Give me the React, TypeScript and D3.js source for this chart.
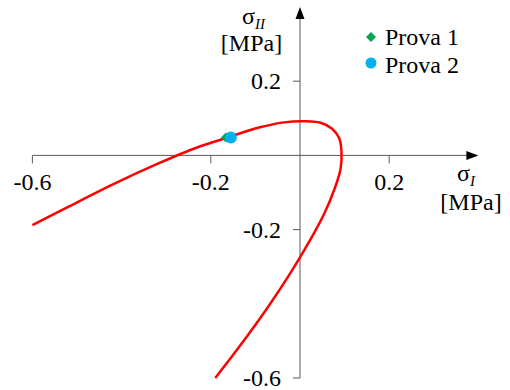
import React from "react";
import * as d3 from "d3";

// failure envelope (sigma I, sigma II) in MPa, read from the left end round to the bottom end
const envelopeI = [-0.6, -0.522, -0.416, -0.32, -0.234, -0.158, -0.092, -0.036, 0.01, 0.046, 0.072, 0.088, 0.093, 0.091, 0.077, 0.054, 0.02, -0.023, -0.076, -0.14, -0.19];
const envelopeII = [-0.188, -0.14, -0.076, -0.023, 0.02, 0.05, 0.075, 0.089, 0.092, 0.088, 0.072, 0.046, 0.01, -0.036, -0.092, -0.158, -0.234, -0.32, -0.416, -0.522, -0.6];

// test results
const testNames = ["Prova 1", "Prova 2"];
const testI = [-0.166, -0.155];
const testII = [0.048, 0.048];

const xTicks = [-0.6, -0.2, 0.2];
const yTicks = [0.2, -0.2, -0.6];

const W = 510;
const H = 390;
const FONT = "Times New Roman, Liberation Serif, serif";
const FS = 24;
const axisColor = "#595959";

const x = d3.scaleLinear().domain([-0.6, 0.4]).range([32.4, 478.4]);
const y = d3.scaleLinear().domain([-0.6, 0.4]).range([378, 7]);
const fmt = (d: number) => d3.format(".1f")(d).replace("\u2212", "-");

const App = () => {
  const pts = envelopeI.map((v, i) => [v, envelopeII[i]] as [number, number]);
  const line = d3
    .line<[number, number]>()
    .x((d) => x(d[0]))
    .y((d) => y(d[1]))
    .curve(d3.curveCatmullRom);
  const diamond = d3.symbol(d3.symbolSquare, 50)() || "";

  return (
    <svg
      width={W}
      height={H}
      fontFamily={FONT}
      fontSize={FS}
      style={{ position: "absolute", left: 0, top: 0, fontFamily: FONT }}
    >
      {/* axes */}
      <line x1={x(-0.6)} x2={x(0.4) - 10} y1={y(0)} y2={y(0)} stroke={axisColor} />
      <line x1={x(0)} x2={x(0)} y1={y(-0.6)} y2={y(0.4) + 10} stroke={axisColor} />
      <path d={`M${x(0.4)},${y(0)} l-12,-4.5 l0,9 Z`} fill="#000" />
      <path d={`M${x(0)},${y(0.4)} l-4.5,12 l9,0 Z`} fill="#000" />

      {xTicks.map((d) => (
        <g key={"x" + d}>
          <line x1={x(d)} x2={x(d)} y1={y(0)} y2={y(0) + 8} stroke={axisColor} />
          <text x={x(d)} y={y(0) + 35} textAnchor="middle" fontFamily={FONT}>
            {fmt(d)}
          </text>
        </g>
      ))}
      {yTicks.map((d) => (
        <g key={"y" + d}>
          <line x1={x(0) - 7} x2={x(0)} y1={y(d)} y2={y(d)} stroke={axisColor} />
          <text x={x(0) - 19} y={y(d) + 8} textAnchor="end" fontFamily={FONT}>
            {fmt(d)}
          </text>
        </g>
      ))}

      {/* envelope */}
      <path d={line(pts) || ""} fill="none" stroke="#ff0000" strokeWidth={2.5} />

      {/* test points */}
      <path d={diamond} transform={`translate(${x(testI[0])},${y(testII[0])}) rotate(45)`} fill="#00a650" />
      <circle cx={x(testI[1])} cy={y(testII[1])} r={6} fill="#00b0f0" />

      {/* legend */}
      <path d={diamond} transform="translate(371,37) rotate(45)" fill="#00a650" />
      <circle cx={371} cy={63} r={5.5} fill="#00b0f0" />
      {testNames.map((d, i) => (
        <text key={d} x={385} y={45 + i * 28} fontFamily={FONT}>
          {d}
        </text>
      ))}

      {/* axis titles */}
      <text x={242} y={24} fontFamily={FONT}>
        σ<tspan dy={5} fontSize={15} fontStyle="italic">II</tspan>
      </text>
      <text x={251.5} y={51} textAnchor="middle" fontFamily={FONT}>
        [MPa]
      </text>
      <text x={457} y={181} fontFamily={FONT}>
        σ<tspan dy={5} fontSize={15} fontStyle="italic">I</tspan>
      </text>
      <text x={471} y={210} textAnchor="middle" fontFamily={FONT}>
        [MPa]
      </text>
    </svg>
  );
};

export default App;
